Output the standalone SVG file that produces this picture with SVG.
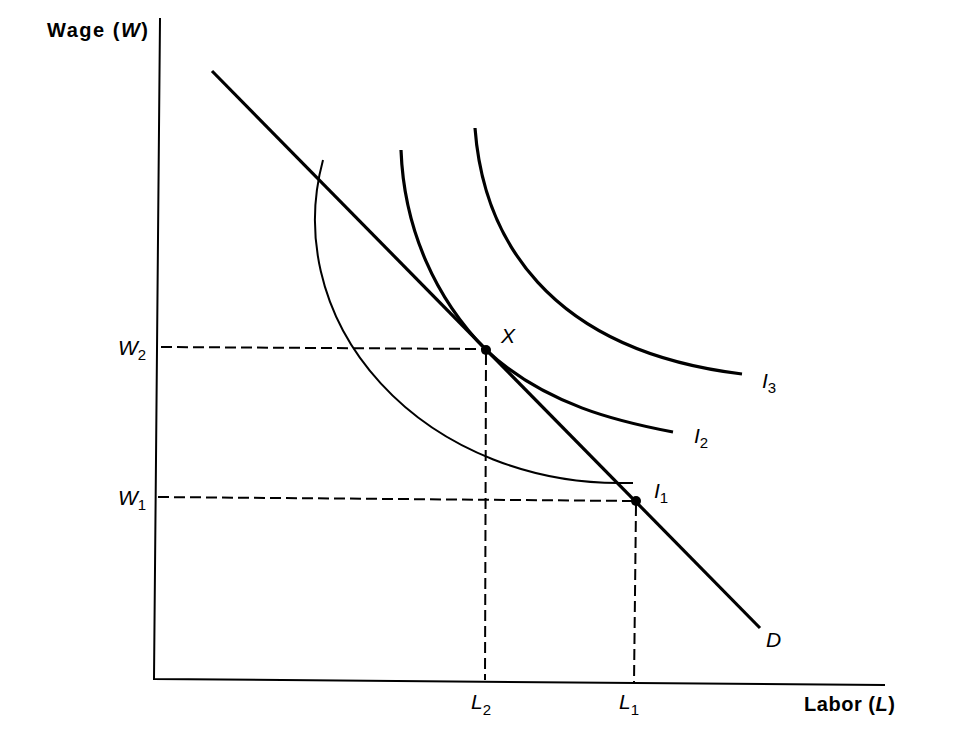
<svg xmlns="http://www.w3.org/2000/svg" width="960" height="748" viewBox="0 0 960 748">
<style>
.axis{fill:none;stroke:#000;stroke-width:2;stroke-linecap:square}
.thick{fill:none;stroke:#000;stroke-width:3.2;stroke-linecap:butt}
.thin{fill:none;stroke:#000;stroke-width:2;stroke-linecap:butt}
.dash{fill:none;stroke:#000;stroke-width:2;stroke-dasharray:11 5}
.lbl{font-family:"Liberation Sans",Arial,sans-serif;font-style:italic;font-size:21px;fill:#000}
.sub{font-size:15px;font-style:normal}
.bold{font-family:"Liberation Sans",Arial,sans-serif;font-weight:bold;font-size:20px;fill:#000}
.dot{fill:#000}
</style>
<rect width="960" height="748" fill="#fff"/>
<g id="axes">
  <path class="axis" d="M160,19 L154,679 L884,685"/>
  <text class="bold" x="47" y="37" textLength="101" lengthAdjust="spacing">Wage (<tspan font-style="italic">W</tspan>)</text>
  <text class="bold" x="804" y="711" textLength="91" lengthAdjust="spacing">Labor (<tspan font-style="italic">L</tspan>)</text>
</g>
<g id="connectors">
  <path class="dash" d="M161,347 L484,349"/>
  <path class="dash" d="M158,497 L633,501"/>
  <path class="dash" d="M486,354 L485,680"/>
  <path class="dash" d="M636,505 L634,683"/>
</g>
<g id="demand">
  <path class="thick" d="M212,71 L760,628"/>
  <text class="lbl" x="766" y="647">D</text>
</g>
<g id="I1">
  <path class="thin" d="M323,160 A304,263 0 0 0 619,483 L633,483"/>
  <text class="lbl" x="654" y="498">I<tspan class="sub" dy="5">1</tspan></text>
</g>
<g id="I2">
  <path class="thick" d="M401,150 C404,230 436,299 486,350 C545,405 620,422 673,432"/>
  <text class="lbl" x="694" y="443">I<tspan class="sub" dy="5">2</tspan></text>
</g>
<g id="I3">
  <path class="thick" d="M475,128 C483,235 545,350 742,374"/>
  <text class="lbl" x="762" y="388">I<tspan class="sub" dy="5">3</tspan></text>
</g>
<g id="pointX">
  <circle class="dot" cx="486" cy="350" r="5"/>
  <text class="lbl" x="501" y="343">X</text>
</g>
<g id="pointL1">
  <circle class="dot" cx="636" cy="501" r="5"/>
</g>
<g id="W2">
  <text class="lbl" x="118" y="355">W<tspan class="sub" dy="5">2</tspan></text>
</g>
<g id="W1">
  <text class="lbl" x="118" y="505">W<tspan class="sub" dy="5">1</tspan></text>
</g>
<g id="L2">
  <text class="lbl" x="471" y="709">L<tspan class="sub" dy="6">2</tspan></text>
</g>
<g id="L1">
  <text class="lbl" x="619" y="709">L<tspan class="sub" dy="6">1</tspan></text>
</g>
</svg>
